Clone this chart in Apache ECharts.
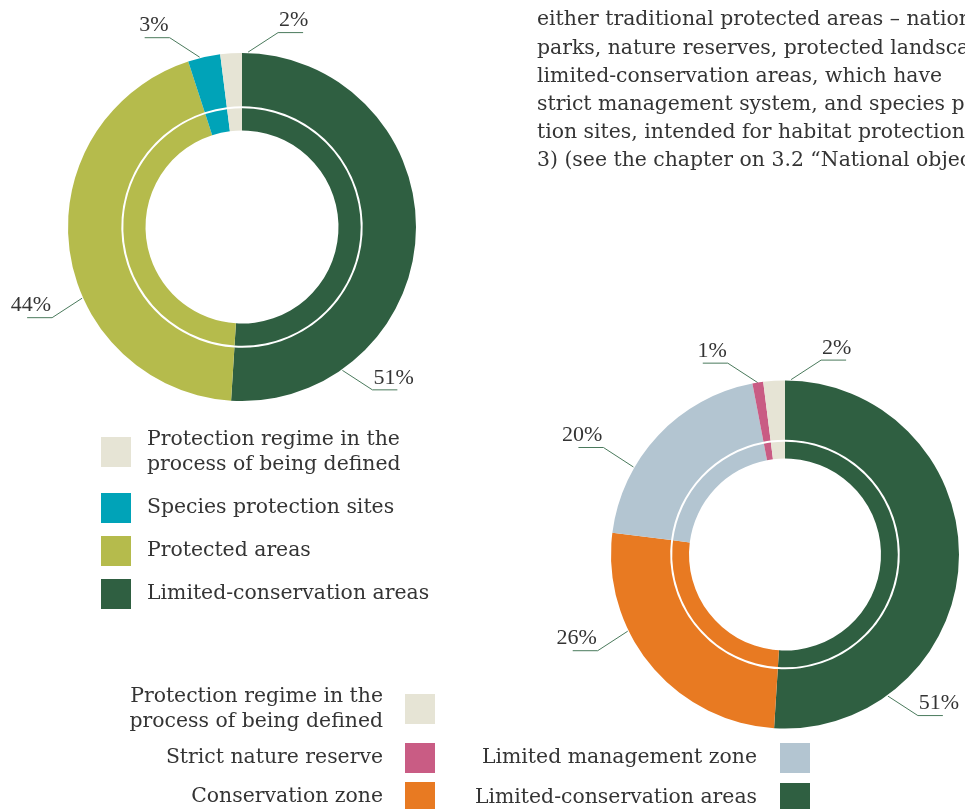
<!DOCTYPE html>
<html>
<head>
<meta charset="utf-8">
<script src="https://cdn.jsdelivr.net/npm/echarts@6/dist/echarts.min.js"></script>
<style>
  html, body { margin: 0; padding: 0; background: #ffffff; }
  #chart { width: 965px; height: 809px; }
</style>
</head>
<body>
<div id="chart"></div>
<script>
// ---- Category names ----
const REGIME = 'Protection regime in the process of being defined';
const SPECIES = 'Species protection sites';
const PROTECTED = 'Protected areas';
const LIMITED = 'Limited-conservation areas';
const STRICT = 'Strict nature reserve';
const CONSERVATION = 'Conservation zone';
const LIMITED_MGMT = 'Limited management zone';

// ---- Share of total area by protection type (%), clockwise from 12 o'clock ----
const typeNames = [LIMITED, PROTECTED, SPECIES, REGIME];
const typeShares = [51, 44, 3, 2];

// ---- Share of total area by management zone (%), clockwise from 12 o'clock ----
const zoneNames = [LIMITED, CONSERVATION, LIMITED_MGMT, STRICT, REGIME];
const zoneShares = [51, 26, 20, 1, 2];

// ---- Legend entries ----
const typeLegendTop = [REGIME];
const typeLegendRest = [SPECIES, PROTECTED, LIMITED];
const zoneLegendLeft = [REGIME, STRICT, CONSERVATION];
const zoneLegendRight = [LIMITED_MGMT, LIMITED];

// ---- Body text beside the charts ----
const paragraphLines = [
  'either traditional protected areas – national',
  'parks, nature reserves, protected landscapes,',
  'limited-conservation areas, which have',
  'strict management system, and species protec-',
  'tion sites, intended for habitat protection',
  '3) (see the chapter on 3.2 “National objectives”'
];

// ---- Styling ----
const TEXT_FONT = '"DejaVu Serif", serif';
const LABEL_FONT = '"Liberation Serif", serif';
const TEXT_SIZE = 20.4;
const TEXT_COLOR = '#343434';
const LINE_COLOR = '#4a7a5c';
const colors = {
  [LIMITED]: '#2f5f41',
  [PROTECTED]: '#b5bb4c',
  [SPECIES]: '#00a3b8',
  [REGIME]: '#e6e4d5',
  [CONSERVATION]: '#e87a22',
  [LIMITED_MGMT]: '#b3c5d1',
  [STRICT]: '#c95c84'
};

const R_OUT = 174;
const typeCenter = [242, 227];
const zoneCenter = [785, 554.5];

// Where the leader lines of large slices meet the ring (degrees clockwise from 12 o'clock);
// other labels start at the slice middle.
const typeAnchorDeg = { [LIMITED]: 145, [PROTECTED]: 246, [SPECIES]: 346, [REGIME]: 2 };
const zoneAnchorDeg = { [LIMITED]: 144, [CONSERVATION]: 244, [LIMITED_MGMT]: 300, [REGIME]: 2 };
const LEG_DX = 30, LEG_DY = 19.5, UNDERLINE = 25;

function leaderLayout(center, names, anchors) {
  const cx = center[0], cy = center[1];
  return function (params) {
    const name = names[params.dataIndex];
    let p0;
    if (anchors[name] != null) {
      const a = anchors[name] * Math.PI / 180;
      p0 = [cx + (R_OUT + 1) * Math.sin(a), cy - (R_OUT + 1) * Math.cos(a)];
    } else {
      p0 = params.labelLinePoints[0];
    }
    const sx = p0[0] >= cx ? 1 : -1;
    const sy = p0[1] >= cy ? 1 : -1;
    const elbow = [p0[0] + sx * LEG_DX, p0[1] + sy * LEG_DY];
    const end = [elbow[0] + sx * UNDERLINE, elbow[1]];
    return {
      x: elbow[0] + (sx > 0 ? 1 : -1),
      y: elbow[1] - 1,
      align: sx > 0 ? 'left' : 'right',
      verticalAlign: 'bottom',
      labelLinePoints: [p0, elbow, end]
    };
  };
}

function ring(names, values, center, radius, labelled, anchors) {
  const s = {
    type: 'pie',
    center: center,
    radius: radius,
    startAngle: 90,
    clockwise: true,
    avoidLabelOverlap: false,
    silent: true,
    emphasis: { disabled: true },
    itemStyle: { borderWidth: 0 },
    data: names.map((n, i) => ({ name: n, value: values[i], itemStyle: { color: colors[n] } }))
  };
  if (labelled) {
    s.label = {
      show: true,
      position: 'outside',
      formatter: '{c}%',
      fontFamily: LABEL_FONT,
      fontSize: 22,
      lineHeight: 22,
      color: TEXT_COLOR
    };
    s.labelLine = { show: true, length: 10, length2: 10, smooth: false, lineStyle: { color: LINE_COLOR, width: 1 } };
    s.labelLayout = leaderLayout(center, names, anchors);
  } else {
    s.label = { show: false };
    s.labelLine = { show: false };
  }
  return s;
}

const legendText = { fontFamily: TEXT_FONT, fontSize: TEXT_SIZE, color: TEXT_COLOR, lineHeight: 25 };
const legendBase = {
  orient: 'vertical',
  icon: 'rect',
  itemWidth: 30,
  itemHeight: 30,
  padding: 0,
  height: 160,
  selectedMode: false,
  formatter: n => n === REGIME ? 'Protection regime in the\nprocess of being defined' : n
};

const chart = echarts.init(document.getElementById('chart'), null, { renderer: 'canvas' });
chart.setOption({
  backgroundColor: '#ffffff',
  animation: false,
  legend: [
    Object.assign({}, legendBase, {
      data: typeLegendTop, left: 101, top: 427, align: 'left',
      textStyle: Object.assign({}, legendText, { padding: [0, 0, 0, 11] })
    }),
    Object.assign({}, legendBase, {
      data: typeLegendRest, left: 101, top: 493, align: 'left', itemGap: 13,
      textStyle: Object.assign({}, legendText, { padding: [0, 0, 0, 11] })
    }),
    Object.assign({}, legendBase, {
      data: zoneLegendLeft, right: 530, top: 684, align: 'right', itemGap: 9,
      textStyle: Object.assign({}, legendText, { padding: [0, 17, 0, 0] })
    }),
    Object.assign({}, legendBase, {
      data: zoneLegendRight, right: 155, top: 743, align: 'right', itemGap: 10,
      textStyle: Object.assign({}, legendText, { padding: [0, 18, 0, 0] })
    })
  ],
  graphic: [{
    type: 'text',
    left: 537,
    top: 6,
    silent: true,
    style: {
      text: paragraphLines.join('\n'),
      fontFamily: TEXT_FONT,
      fontSize: TEXT_SIZE,
      lineHeight: 28.2,
      fill: TEXT_COLOR
    }
  }],
  series: [
    ring(typeNames, typeShares, typeCenter, [120.7, R_OUT], true, typeAnchorDeg),
    ring(typeNames, typeShares, typeCenter, [96.5, 118.7], false),
    ring(zoneNames, zoneShares, zoneCenter, [114.8, R_OUT], true, zoneAnchorDeg),
    ring(zoneNames, zoneShares, zoneCenter, [96, 112.8], false)
  ]
});
</script>
</body>
</html>
